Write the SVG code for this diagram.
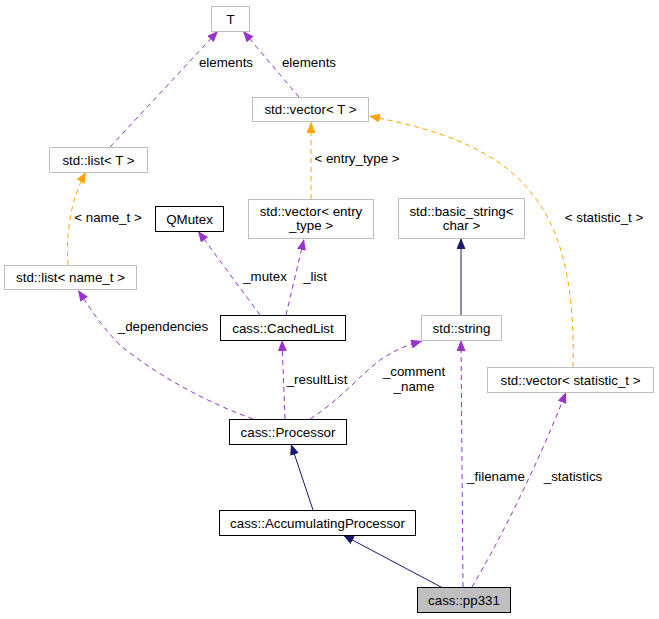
<svg xmlns="http://www.w3.org/2000/svg" width="659" height="619" viewBox="0 0 659 619">
<style>
text{font-family:"Liberation Sans",Arial,sans-serif;font-size:13.33px;fill:#000}
.n text{text-anchor:middle}
.g{fill:#fff;stroke:#bfbfbf;stroke-width:1}
.b{fill:#fff;stroke:#000;stroke-width:1}
.h{fill:#bfbfbf;stroke:#000;stroke-width:1}
.e{fill:none;stroke-width:1}
.p{stroke:#9a32cd;stroke-dasharray:5,4;marker-end:url(#ap)}
.o{stroke:#ffa500;stroke-dasharray:5,4;marker-end:url(#ao)}
.v{stroke:#191970;marker-end:url(#av)}
.l{text-anchor:middle}
</style>
<defs>
<marker id="ap" markerUnits="userSpaceOnUse" markerWidth="12" markerHeight="10" refX="11" refY="4.5" orient="auto"><path d="M0,0 L11,4.5 L0,9 z" fill="#9a32cd"/></marker>
<marker id="ao" markerUnits="userSpaceOnUse" markerWidth="12" markerHeight="10" refX="11" refY="4.5" orient="auto"><path d="M0,0 L11,4.5 L0,9 z" fill="#ffa500"/></marker>
<marker id="av" markerUnits="userSpaceOnUse" markerWidth="12" markerHeight="10" refX="11" refY="4.5" orient="auto"><path d="M0,0 L11,4.5 L0,9 z" fill="#191970"/></marker>
</defs>
<rect width="659" height="619" fill="#fff"/>
<g id="edges">
<path class="e p" d="M110,147 L218,31"/>
<path class="e p" d="M299,97 L243,31"/>
<path class="e o" d="M311,199 L311,122"/>
<path class="e o" d="M68,265 C66,235 70,200 86,172"/>
<path class="e o" d="M573,367 C575,300 565,240 540,205 C505,150 440,130 369,116"/>
<path class="e p" d="M260,315 L198,231"/>
<path class="e p" d="M286,315 L304,239"/>
<path class="e p" d="M253,419 C200,400 150,370 120,345 C100,325 88,305 78,290"/>
<path class="e p" d="M285,419 L282,340"/>
<path class="e p" d="M310,419 C340,400 360,375 380,360 C395,350 405,346 422,341"/>
<path class="e p" d="M463,587 L461,340"/>
<path class="e p" d="M472,587 C500,540 540,460 566,392"/>
<path class="e v" d="M461,315 L461,238"/>
<path class="e v" d="M313,510 L291,444"/>
<path class="e v" d="M441,587 L343,535"/>
<text x="226" y="67" class="l">elements</text>
<text x="309" y="67" class="l">elements</text>
<text x="357" y="163" class="l">&lt; entry_type &gt;</text>
<text x="108" y="222" class="l">&lt; name_t &gt;</text>
<text x="604" y="222" class="l">&lt; statistic_t &gt;</text>
<text x="265" y="281" class="l">_mutex</text>
<text x="315" y="281" class="l">_list</text>
<text x="163" y="331" class="l">_dependencies</text>
<text x="317" y="384" class="l">_resultList</text>
<text x="414" y="376" class="l">_comment</text>
<text x="414" y="391" class="l">_name</text>
<text x="496" y="481" class="l">_filename</text>
<text x="573" y="481" class="l">_statistics</text>
</g>
<g id="T" class="n"><rect class="g" x="211.5" y="6.5" width="38" height="25"/><text x="230.5" y="23.5">T</text></g>
<g id="vectorT" class="n"><rect class="g" x="252.5" y="97.5" width="116" height="24"/><text x="310.5" y="114">std::vector&lt; T &gt;</text></g>
<g id="listT" class="n"><rect class="g" x="49.5" y="147.5" width="98" height="25"/><text x="98.5" y="164.5">std::list&lt; T &gt;</text></g>
<g id="listName" class="n"><rect class="g" x="4.5" y="265.5" width="132" height="24"/><text x="70.5" y="282">std::list&lt; name_t &gt;</text></g>
<g id="QMutex" class="n"><rect class="b" x="155.5" y="206.5" width="68" height="25"/><text x="189.5" y="223.5">QMutex</text></g>
<g id="vectorEntry" class="n"><rect class="g" x="248.5" y="199.5" width="125" height="39"/><text x="311" y="215.5">std::vector&lt; entry</text><text x="311" y="229.5">_type &gt;</text></g>
<g id="basicString" class="n"><rect class="g" x="398.5" y="198.5" width="126" height="40"/><text x="461.5" y="215.5">std::basic_string&lt;</text><text x="461.5" y="229.5">char &gt;</text></g>
<g id="CachedList" class="n"><rect class="b" x="220.5" y="315.5" width="125" height="25"/><text x="283" y="332.5">cass::CachedList</text></g>
<g id="string" class="n"><rect class="g" x="421.5" y="315.5" width="80" height="25"/><text x="461.5" y="332.5">std::string</text></g>
<g id="vectorStat" class="n"><rect class="g" x="487.5" y="367.5" width="166" height="25"/><text x="570.5" y="384.5">std::vector&lt; statistic_t &gt;</text></g>
<g id="Processor" class="n"><rect class="b" x="229.5" y="419.5" width="117" height="25"/><text x="288" y="436.5">cass::Processor</text></g>
<g id="AccProc" class="n"><rect class="b" x="219.5" y="510.5" width="196" height="25"/><text x="317.5" y="527.5">cass::AccumulatingProcessor</text></g>
<g id="pp331" class="n"><rect class="h" x="417.5" y="587.5" width="93" height="25"/><text x="464" y="604.5">cass::pp331</text></g>
</svg>
